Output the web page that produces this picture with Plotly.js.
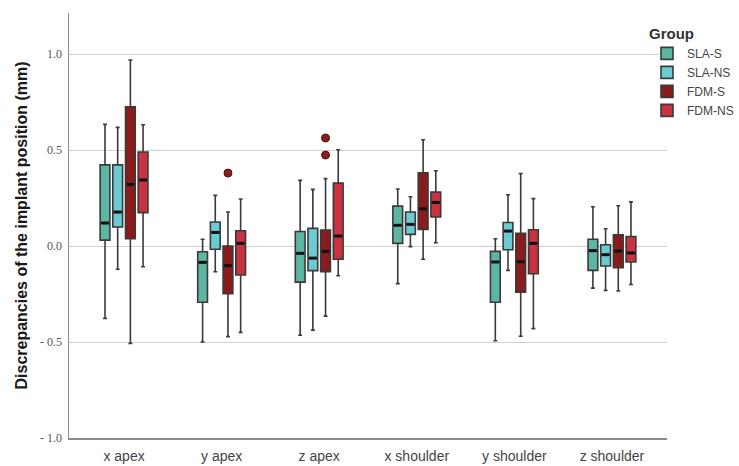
<!DOCTYPE html>
<html>
<head>
<meta charset="utf-8">
<script src="https://cdn.plot.ly/plotly-3.0.1.min.js"></script>
<style>html,body{margin:0;padding:0;background:#fff;}#chart{width:739px;height:466px;}</style>
</head>
<body>
<div id="chart"></div>
<script>
const categories = ['x apex', 'y apex', 'z apex', 'x shoulder', 'y shoulder', 'z shoulder'];
const groups = ['SLA-S', 'SLA-NS', 'FDM-S', 'FDM-NS'];
const colors = ['#5db5a3', '#6ccbd2', '#8b1c1c', '#c9323f'];

// per-group box statistics, one value per category
const slaS_lower  = [-0.377, -0.500, -0.465, -0.196, -0.493, -0.219];
const slaS_q1     = [ 0.031, -0.293, -0.188,  0.014, -0.293, -0.127];
const slaS_median = [ 0.120, -0.085, -0.038,  0.108, -0.083, -0.024];
const slaS_q3     = [ 0.423, -0.030,  0.076,  0.208, -0.028,  0.035];
const slaS_upper  = [ 0.634,  0.035,  0.342,  0.297,  0.038,  0.205];

const slaNS_lower  = [-0.121, -0.134, -0.438, -0.003, -0.127, -0.231];
const slaNS_q1     = [ 0.099, -0.017, -0.128,  0.061, -0.019, -0.104];
const slaNS_median = [ 0.177,  0.071, -0.063,  0.113,  0.078, -0.045];
const slaNS_q3     = [ 0.423,  0.125,  0.092,  0.177,  0.123,  0.007];
const slaNS_upper  = [ 0.618,  0.264,  0.295,  0.257,  0.267,  0.090];

const fdmS_lower  = [-0.507, -0.472, -0.365, -0.069, -0.470, -0.234];
const fdmS_q1     = [ 0.038, -0.248, -0.134,  0.087, -0.240, -0.113];
const fdmS_median = [ 0.321, -0.102, -0.028,  0.194, -0.082, -0.026];
const fdmS_q3     = [ 0.726,  0.000,  0.083,  0.382,  0.066,  0.059];
const fdmS_upper  = [ 0.969,  0.177,  0.351,  0.554,  0.377,  0.210];

const fdmNS_lower  = [-0.108, -0.450, -0.155,  0.017, -0.430, -0.200];
const fdmNS_q1     = [ 0.174, -0.151, -0.069,  0.151, -0.144, -0.083];
const fdmNS_median = [ 0.344,  0.014,  0.052,  0.227,  0.014, -0.036];
const fdmNS_q3     = [ 0.490,  0.080,  0.328,  0.281,  0.085,  0.049];
const fdmNS_upper  = [ 0.632,  0.245,  0.502,  0.392,  0.247,  0.230];

// outliers (FDM-S)
const outlierCategory = ['y apex', 'z apex', 'z apex'];
const outlierGroup    = ['FDM-S', 'FDM-S', 'FDM-S'];
const outlierValue    = [0.380, 0.563, 0.474];

const yTickVals = [-1.0, -0.5, 0.0, 0.5, 1.0];
const yTickText = ['- 1.0', '- 0.5', '0.0', '0.5', '1.0'];

const stats = [
  [slaS_lower, slaS_q1, slaS_median, slaS_q3, slaS_upper],
  [slaNS_lower, slaNS_q1, slaNS_median, slaNS_q3, slaNS_upper],
  [fdmS_lower, fdmS_q1, fdmS_median, fdmS_q3, fdmS_upper],
  [fdmNS_lower, fdmNS_q1, fdmNS_median, fdmNS_q3, fdmNS_upper]
];

const slot = 0.13;
const boxW = 0.10;
const offsetOf = g => (g - (groups.length - 1) / 2) * slot;
const catIdx = categories.map((c, i) => i);

const traces = groups.map((name, g) => ({
  type: 'box',
  name: name,
  x: catIdx.map(i => i + offsetOf(g)),
  lowerfence: stats[g][0],
  q1: stats[g][1],
  median: stats[g][2],
  q3: stats[g][3],
  upperfence: stats[g][4],
  width: boxW,
  whiskerwidth: 0.4,
  fillcolor: colors[g],
  line: {color: '#3a3a3a', width: 1.6},
  boxpoints: false,
  hoverinfo: 'skip'
}));

// thicker median marks
groups.forEach((name, g) => {
  const xs = [], ys = [];
  catIdx.forEach(i => {
    const c = i + offsetOf(g);
    xs.push(c - boxW / 2 + 0.01, c + boxW / 2 - 0.01, null);
    ys.push(stats[g][2][i], stats[g][2][i], null);
  });
  traces.push({
    type: 'scatter', mode: 'lines', x: xs, y: ys, showlegend: false,
    line: {color: '#111', width: 3}, hoverinfo: 'skip'
  });
});

traces.push({
  type: 'scatter', mode: 'markers', showlegend: false, hoverinfo: 'skip',
  x: outlierCategory.map((c, k) => categories.indexOf(c) + offsetOf(groups.indexOf(outlierGroup[k]))),
  y: outlierValue,
  marker: {size: 8, color: '#8b1c1c', line: {color: '#5a1010', width: 1}}
});

const layout = {
  width: 739, height: 466,
  margin: {l: 69, r: 0, t: 13, b: 28},
  paper_bgcolor: '#fff', plot_bgcolor: '#fff',
  showlegend: true,
  boxmode: 'overlay',
  xaxis: {
    domain: [0, 0.8925],
    range: [-0.564, 5.564],
    tickvals: catIdx, ticktext: categories,
    showgrid: false, zeroline: false,
    showline: true, linecolor: '#8a8a8a', linewidth: 1.5,
    ticks: '', ticklabelstandoff: 5,
    tickfont: {family: 'Liberation Sans, Arial, sans-serif', size: 14, color: '#444'}
  },
  yaxis: {
    range: [-1.0, 1.214],
    tickvals: yTickVals, ticktext: yTickText,
    showgrid: true, gridcolor: '#d0d0d0', gridwidth: 1,
    zeroline: false,
    showline: true, linecolor: '#8a8a8a', linewidth: 1.5,
    ticks: '', ticklabelstandoff: 3,
    tickfont: {family: 'Liberation Serif, DejaVu Serif, serif', size: 12, color: '#555'},
    title: {
      text: 'Discrepancies of the implant position (mm)',
      font: {family: 'Liberation Sans, Arial, sans-serif', size: 16, color: '#1a1a1a', weight: 'bold'},
      standoff: 8
    }
  },
  legend: {
    title: {text: '<b>Group</b>', font: {family: 'Liberation Sans, Arial, sans-serif', size: 15, color: '#333'}},
    x: 1.0, xanchor: 'right', y: 0.985, yanchor: 'top',
    font: {family: 'Liberation Sans, Arial, sans-serif', size: 12, color: '#444'},
    itemwidth: 30, tracegroupgap: 0,
    bgcolor: 'rgba(0,0,0,0)'
  }
};

Plotly.newPlot('chart', traces, layout, {displayModeBar: false, staticPlot: true});
</script>
</body>
</html>
